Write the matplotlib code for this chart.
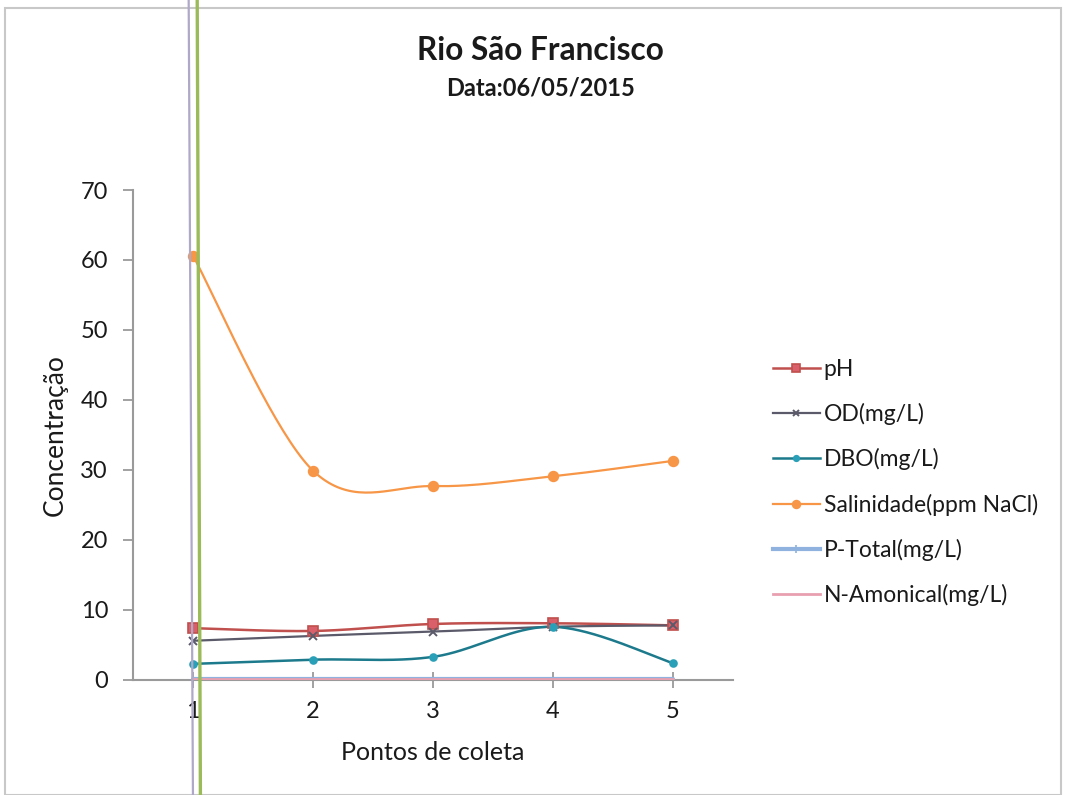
import numpy as np
import matplotlib
matplotlib.use("Agg")
import matplotlib.pyplot as plt
from matplotlib.lines import Line2D
from matplotlib.patches import Rectangle

plt.rcParams['font.family'] = ['Lato', 'DejaVu Sans']

# Sampling points along the river
pontos = [1, 2, 3, 4, 5]
ph = [7.4, 7.0, 8.0, 8.1, 7.8]
od = [5.6, 6.3, 6.9, 7.6, 7.8]
dbo = [2.3, 2.9, 3.3, 7.6, 2.4]
salinidade = [60.6, 29.9, 27.7, 29.1, 31.3]
p_total = [0.1, 0.1, 0.1, 0.1, 0.1]
n_amonical = [0.1, 0.1, 0.1, 0.1, 0.1]

series_names = ["pH", "OD(mg/L)", "DBO(mg/L)", "Salinidade(ppm NaCl)",
                "P-Total(mg/L)", "N-Amonical(mg/L)"]
y_ticks = [0, 10, 20, 30, 40, 50, 60, 70]


def smooth(xs, ys, n=40):
    """Spreadsheet-style smoothed line: cubic Bezier with 1/6 tangents."""
    xs = np.asarray(xs, float)
    ys = np.asarray(ys, float)
    px = np.concatenate([[xs[0]], xs, [xs[-1]]])
    py = np.concatenate([[ys[0]], ys, [ys[-1]]])
    out_x, out_y = [], []
    t = np.linspace(0, 1, n)
    for i in range(1, len(xs)):
        p0 = np.array([px[i], py[i]])
        p3 = np.array([px[i + 1], py[i + 1]])
        c1 = p0 + (np.array([px[i + 1], py[i + 1]]) - np.array([px[i - 1], py[i - 1]])) / 6
        c2 = p3 - (np.array([px[i + 2], py[i + 2]]) - np.array([px[i], py[i]])) / 6
        b = ((1 - t) ** 3)[:, None] * p0 + (3 * (1 - t) ** 2 * t)[:, None] * c1 \
            + (3 * (1 - t) * t ** 2)[:, None] * c2 + (t ** 3)[:, None] * p3
        out_x.extend(b[:, 0])
        out_y.extend(b[:, 1])
    return np.array(out_x), np.array(out_y)


fig = plt.figure(figsize=(10.66, 7.95), dpi=100)
ax = fig.add_axes([0.1248, 0.1447, 0.5628, 0.6163])

styles = [
    dict(color="#c0504d", marker="s", ms=7, mfc="#d9606a", mec="#c0504d", lw=1.8, show=True),
    dict(color="#5a5a6a", marker="x", ms=6, mec="#5a5a6a", lw=1.6, mew=1.4, show=True),
    dict(color="#1c7a8c", marker="o", ms=5, mfc="#2aa0b8", mec="#2aa0b8", lw=1.8, show=True),
    dict(color="#f79646", marker="o", ms=7, mfc="#f79646", mec="#f79646", lw=1.6, show=True),
    dict(color="#8fb3de", marker="+", ms=8, mec="#8fb3de", lw=3.0, show=False),
    dict(color="#e8a0b0", marker=None, lw=2.0, show=False),
]
all_data = [ph, od, dbo, salinidade, p_total, n_amonical]

handles = []
for name, ys, st in zip(series_names, all_data, styles):
    sx, sy = smooth(pontos, ys)
    ax.plot(sx, sy, color=st["color"], lw=st["lw"], zorder=3, solid_capstyle="round")
    if st.get("marker") and st["show"]:
        ax.plot(pontos, ys, ls="none", marker=st["marker"], ms=st["ms"],
                mfc=st.get("mfc", st["color"]), mec=st.get("mec", st["color"]),
                mew=st.get("mew", 1.2), zorder=4)
    handles.append(Line2D([], [], color=st["color"], lw=st["lw"],
                          marker=st.get("marker") or "", ms=st.get("ms", 0) * 0.8,
                          mfc=st.get("mfc", st["color"]), mec=st.get("mec", st["color"]),
                          mew=st.get("mew", 1.2)))

ax.set_xlim(0.5, 5.5)
ax.set_ylim(0, 70)
ax.set_xticks(pontos)
ax.set_xticklabels([str(p) for p in pontos])
ax.set_yticks(y_ticks)
for s in ["top", "right"]:
    ax.spines[s].set_visible(False)
for s in ["left", "bottom"]:
    ax.spines[s].set_color("#9a9a9a")
    ax.spines[s].set_linewidth(1.5)
ax.tick_params(axis="y", direction="out", length=7, width=1.3, color="#9a9a9a",
               labelsize=17, pad=11, labelcolor="#1a1a1a")
ax.tick_params(axis="x", direction="inout", length=12, width=1.3, color="#9a9a9a",
               labelsize=17, pad=9, labelcolor="#1a1a1a")
ax.set_ylabel("Concentração", fontsize=19, color="#1a1a1a")
ax.set_xlabel("Pontos de coleta", fontsize=18, color="#1a1a1a")
ax.yaxis.set_label_coords(-0.108, 0.5)
ax.xaxis.set_label_coords(0.5, -0.125)

fig.text(0.507, 0.937, "Rio São Francisco", ha="center", va="center",
         fontsize=22.8, fontweight="bold", color="#1a1a1a")
fig.text(0.507, 0.889, "Data:06/05/2015", ha="center", va="center",
         fontsize=17, fontweight="bold", color="#1a1a1a")

fig.legend(handles, series_names, loc="upper left",
           bbox_to_anchor=(0.725, 0.5485), frameon=False, fontsize=16.5,
           handlelength=2.05, handletextpad=0.17, labelspacing=1.01,
           borderpad=0, borderaxespad=0, labelcolor="#1a1a1a")

# Chart frame and vertical guide lines
fig.add_artist(Rectangle((0.005, 0.0), 0.99, 0.99, transform=fig.transFigure,
                         fill=False, ec="#c8c8c8", lw=1.5))
fig.add_artist(Line2D([0.177, 0.181], [1.0, 0.0], transform=fig.transFigure,
                      color="#b0a8c8", lw=1.6, zorder=5))
fig.add_artist(Line2D([0.185, 0.188], [1.0, 0.0], transform=fig.transFigure,
                      color="#9bbb59", lw=2.4, zorder=5))

fig.savefig("out.png", dpi=100, facecolor="white")
